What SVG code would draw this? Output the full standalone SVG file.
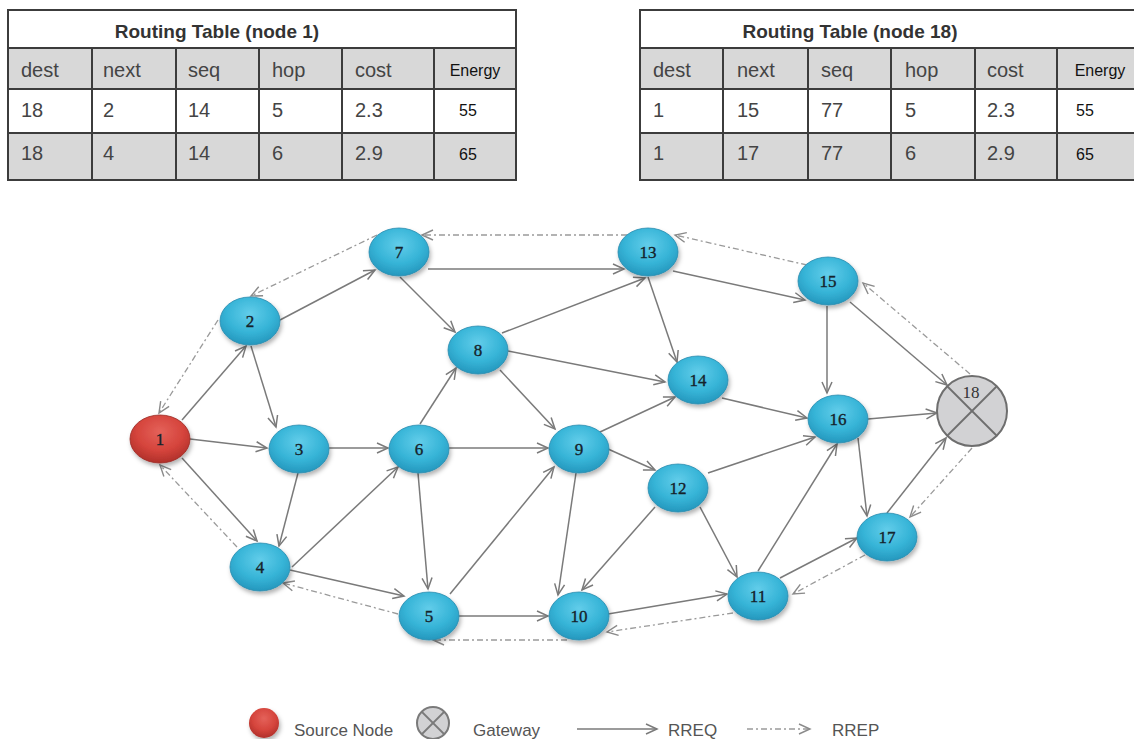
<svg xmlns="http://www.w3.org/2000/svg" width="1134" height="739" viewBox="0 0 1134 739">
<style>
.cellw{fill:#ffffff;stroke:#3c3c3c;stroke-width:2}
.cellg{fill:#d8d8d8;stroke:#3c3c3c;stroke-width:2}
.tt{font-family:"Liberation Sans",Arial,sans-serif;font-size:19px;font-weight:bold;fill:#333}
.th{font-family:"Liberation Sans",Arial,sans-serif;font-size:20px;fill:#444}
.te{font-family:"Liberation Sans",Arial,sans-serif;font-size:16px;fill:#111}
.node{fill:url(#gb);stroke:#2a8cae;stroke-width:0.8;filter:url(#sh)}
.src{fill:url(#gr);stroke:#9a2a24;stroke-width:0.8;filter:url(#sh)}
.lbl{font-family:"Liberation Serif","Times New Roman",serif;font-size:17px;fill:#15232b;stroke:#15232b;stroke-width:0.35;text-anchor:middle}
.req{fill:none;stroke:#7a7a7a;stroke-width:1.5;marker-end:url(#ah)}
.rep{fill:none;stroke:#9a9a9a;stroke-width:1.3;stroke-dasharray:6 3 2 3;marker-end:url(#ahp)}
.leg{font-family:"Liberation Sans",Arial,sans-serif;font-size:17px;fill:#555}
</style>
<defs>
<radialGradient id="gb" cx="50%" cy="35%" r="65%">
<stop offset="0" stop-color="#62cdea"/>
<stop offset="0.6" stop-color="#36b4d7"/>
<stop offset="1" stop-color="#2597bd"/>
</radialGradient>
<radialGradient id="gr" cx="50%" cy="35%" r="65%">
<stop offset="0" stop-color="#e4625a"/>
<stop offset="0.6" stop-color="#d5443c"/>
<stop offset="1" stop-color="#b0302a"/>
</radialGradient>
<filter id="sh" x="-30%" y="-30%" width="160%" height="170%">
<feDropShadow dx="1.5" dy="3" stdDeviation="2" flood-color="#000" flood-opacity="0.3"/>
</filter>
<marker id="ah" markerUnits="userSpaceOnUse" markerWidth="14" markerHeight="14" refX="11" refY="5" orient="auto" overflow="visible">
<path d="M0,0 L11,5 L0,10" fill="none" stroke="#7a7a7a" stroke-width="1.5"/>
</marker>
<marker id="ahp" markerUnits="userSpaceOnUse" markerWidth="14" markerHeight="14" refX="11" refY="5" orient="auto" overflow="visible">
<path d="M0,0 L11,5 L0,10" fill="none" stroke="#8a8a8a" stroke-width="1.4"/>
</marker>
</defs>
<rect width="1134" height="739" fill="#ffffff"/>

<g id="table-node1">
<rect class="cellw" x="8" y="10" width="508" height="38"/>
<rect class="cellg" x="8" y="48" width="84" height="41"/><rect class="cellg" x="92" y="48" width="84" height="41"/><rect class="cellg" x="176" y="48" width="83" height="41"/><rect class="cellg" x="259" y="48" width="83" height="41"/><rect class="cellg" x="342" y="48" width="92" height="41"/><rect class="cellg" x="434" y="48" width="82" height="41"/>
<rect class="cellw" x="8" y="89" width="84" height="44"/><rect class="cellw" x="92" y="89" width="84" height="44"/><rect class="cellw" x="176" y="89" width="83" height="44"/><rect class="cellw" x="259" y="89" width="83" height="44"/><rect class="cellw" x="342" y="89" width="92" height="44"/><rect class="cellw" x="434" y="89" width="82" height="44"/>
<rect class="cellg" x="8" y="133" width="84" height="47"/><rect class="cellg" x="92" y="133" width="84" height="47"/><rect class="cellg" x="176" y="133" width="83" height="47"/><rect class="cellg" x="259" y="133" width="83" height="47"/><rect class="cellg" x="342" y="133" width="92" height="47"/><rect class="cellg" x="434" y="133" width="82" height="47"/>
<text class="tt" x="217" y="38" text-anchor="middle">Routing Table (node 1)</text>
<text class="th" x="21" y="77">dest</text><text class="th" x="103" y="77">next</text><text class="th" x="188" y="77">seq</text><text class="th" x="272" y="77">hop</text><text class="th" x="355" y="77">cost</text><text class="te" x="475" y="76" text-anchor="middle">Energy</text>
<text class="th" x="21" y="117">18</text><text class="th" x="103" y="117">2</text><text class="th" x="188" y="117">14</text><text class="th" x="272" y="117">5</text><text class="th" x="355" y="117">2.3</text><text class="te" x="468" y="116" text-anchor="middle">55</text>
<text class="th" x="21" y="160">18</text><text class="th" x="103" y="160">4</text><text class="th" x="188" y="160">14</text><text class="th" x="272" y="160">6</text><text class="th" x="355" y="160">2.9</text><text class="te" x="468" y="160" text-anchor="middle">65</text>
</g>

<g id="table-node18">
<rect class="cellw" x="640" y="10" width="500" height="38"/>
<rect class="cellg" x="640" y="48" width="83" height="41"/><rect class="cellg" x="723" y="48" width="85" height="41"/><rect class="cellg" x="808" y="48" width="83" height="41"/><rect class="cellg" x="891" y="48" width="84" height="41"/><rect class="cellg" x="975" y="48" width="82" height="41"/><rect class="cellg" x="1057" y="48" width="83" height="41"/>
<rect class="cellw" x="640" y="89" width="83" height="44"/><rect class="cellw" x="723" y="89" width="85" height="44"/><rect class="cellw" x="808" y="89" width="83" height="44"/><rect class="cellw" x="891" y="89" width="84" height="44"/><rect class="cellw" x="975" y="89" width="82" height="44"/><rect class="cellw" x="1057" y="89" width="83" height="44"/>
<rect class="cellg" x="640" y="133" width="83" height="47"/><rect class="cellg" x="723" y="133" width="85" height="47"/><rect class="cellg" x="808" y="133" width="83" height="47"/><rect class="cellg" x="891" y="133" width="84" height="47"/><rect class="cellg" x="975" y="133" width="82" height="47"/><rect class="cellg" x="1057" y="133" width="83" height="47"/>
<text class="tt" x="850" y="38" text-anchor="middle">Routing Table (node 18)</text>
<text class="th" x="653" y="77">dest</text><text class="th" x="737" y="77">next</text><text class="th" x="821" y="77">seq</text><text class="th" x="905" y="77">hop</text><text class="th" x="987" y="77">cost</text><text class="te" x="1100" y="76" text-anchor="middle">Energy</text>
<text class="th" x="653" y="117">1</text><text class="th" x="737" y="117">15</text><text class="th" x="821" y="117">77</text><text class="th" x="905" y="117">5</text><text class="th" x="987" y="117">2.3</text><text class="te" x="1085" y="116" text-anchor="middle">55</text>
<text class="th" x="653" y="160">1</text><text class="th" x="737" y="160">17</text><text class="th" x="821" y="160">77</text><text class="th" x="905" y="160">6</text><text class="th" x="987" y="160">2.9</text><text class="te" x="1085" y="160" text-anchor="middle">65</text>
</g>

<g id="connectors">
<line class="req" x1="182" y1="420" x2="246" y2="346"/>
<line class="req" x1="190" y1="439" x2="267" y2="448"/>
<line class="req" x1="182" y1="458" x2="257" y2="541"/>
<line class="req" x1="251" y1="346" x2="276" y2="427"/>
<line class="req" x1="280" y1="320" x2="375" y2="270"/>
<line class="req" x1="329" y1="448" x2="388" y2="448"/>
<line class="req" x1="298" y1="473" x2="279" y2="546"/>
<line class="req" x1="292" y1="567" x2="398" y2="467"/>
<line class="req" x1="290" y1="570" x2="404" y2="596"/>
<line class="req" x1="420" y1="424" x2="456" y2="368"/>
<line class="req" x1="449" y1="448" x2="548" y2="448"/>
<line class="req" x1="418" y1="473" x2="428" y2="589"/>
<line class="req" x1="400" y1="277" x2="455" y2="332"/>
<line class="req" x1="428" y1="269" x2="624" y2="269"/>
<line class="req" x1="502" y1="333" x2="645" y2="278"/>
<line class="req" x1="508" y1="351" x2="665" y2="382"/>
<line class="req" x1="500" y1="370" x2="555" y2="429"/>
<line class="req" x1="450" y1="594" x2="554" y2="467"/>
<line class="req" x1="459" y1="616" x2="548" y2="616"/>
<line class="req" x1="600" y1="432" x2="675" y2="397"/>
<line class="req" x1="608" y1="449" x2="655" y2="470"/>
<line class="req" x1="576" y1="473" x2="558" y2="595"/>
<line class="req" x1="708" y1="473" x2="815" y2="437"/>
<line class="req" x1="655" y1="507" x2="582" y2="590"/>
<line class="req" x1="700" y1="507" x2="737" y2="577"/>
<line class="req" x1="608" y1="614" x2="727" y2="594"/>
<line class="req" x1="758" y1="571" x2="837" y2="444"/>
<line class="req" x1="780" y1="578" x2="857" y2="538"/>
<line class="req" x1="648" y1="277" x2="677" y2="362"/>
<line class="req" x1="673" y1="271" x2="805" y2="300"/>
<line class="req" x1="722" y1="398" x2="807" y2="418"/>
<line class="req" x1="827" y1="306" x2="827" y2="393"/>
<line class="req" x1="850" y1="302" x2="947" y2="385"/>
<line class="req" x1="868" y1="419" x2="937" y2="413"/>
<line class="req" x1="858" y1="438" x2="867" y2="516"/>
<line class="req" x1="887" y1="513" x2="946" y2="438"/>
<line class="rep" x1="627" y1="235" x2="422" y2="235"/>
<line class="rep" x1="377" y1="235" x2="251" y2="296"/>
<line class="rep" x1="218" y1="320" x2="159" y2="413"/>
<line class="rep" x1="807" y1="265" x2="675" y2="235"/>
<line class="rep" x1="970" y1="374" x2="863" y2="283"/>
<line class="rep" x1="972" y1="448" x2="910" y2="517"/>
<line class="rep" x1="865" y1="555" x2="793" y2="594"/>
<line class="rep" x1="733" y1="613" x2="607" y2="632"/>
<line class="rep" x1="567" y1="640" x2="433" y2="640"/>
<line class="rep" x1="398" y1="614" x2="283" y2="583"/>
<line class="rep" x1="237" y1="547" x2="160" y2="465"/>
</g>

<g id="node1"><ellipse class="src" cx="160" cy="439" rx="30" ry="24"/><text class="lbl" x="160" y="445">1</text></g>
<g id="node2"><ellipse class="node" cx="250" cy="321" rx="30" ry="24"/><text class="lbl" x="250" y="327">2</text></g>
<g id="node3"><ellipse class="node" cx="299" cy="449" rx="30" ry="24"/><text class="lbl" x="299" y="455">3</text></g>
<g id="node4"><ellipse class="node" cx="260" cy="567" rx="30" ry="24"/><text class="lbl" x="260" y="573">4</text></g>
<g id="node5"><ellipse class="node" cx="429" cy="616" rx="30" ry="24"/><text class="lbl" x="429" y="622">5</text></g>
<g id="node6"><ellipse class="node" cx="419" cy="449" rx="30" ry="24"/><text class="lbl" x="419" y="455">6</text></g>
<g id="node7"><ellipse class="node" cx="399" cy="252" rx="30" ry="24"/><text class="lbl" x="399" y="258">7</text></g>
<g id="node8"><ellipse class="node" cx="478" cy="350" rx="30" ry="24"/><text class="lbl" x="478" y="356">8</text></g>
<g id="node9"><ellipse class="node" cx="579" cy="449" rx="30" ry="24"/><text class="lbl" x="579" y="455">9</text></g>
<g id="node10"><ellipse class="node" cx="579" cy="616" rx="30" ry="24"/><text class="lbl" x="579" y="622">10</text></g>
<g id="node11"><ellipse class="node" cx="758" cy="596" rx="30" ry="24"/><text class="lbl" x="758" y="602">11</text></g>
<g id="node12"><ellipse class="node" cx="678" cy="488" rx="30" ry="24"/><text class="lbl" x="678" y="494">12</text></g>
<g id="node13"><ellipse class="node" cx="648" cy="252" rx="30" ry="24"/><text class="lbl" x="648" y="258">13</text></g>
<g id="node14"><ellipse class="node" cx="698" cy="380" rx="30" ry="24"/><text class="lbl" x="698" y="386">14</text></g>
<g id="node15"><ellipse class="node" cx="828" cy="281" rx="30" ry="24"/><text class="lbl" x="828" y="287">15</text></g>
<g id="node16"><ellipse class="node" cx="838" cy="419" rx="30" ry="24"/><text class="lbl" x="838" y="425">16</text></g>
<g id="node17"><ellipse class="node" cx="887" cy="537" rx="30" ry="24"/><text class="lbl" x="887" y="543">17</text></g>
<g id="node18">
<circle cx="972" cy="411" r="35" fill="#d2d2d4" stroke="#6e6e6e" stroke-width="2"/>
<line x1="947" y1="386" x2="997" y2="436" stroke="#6e6e6e" stroke-width="1.8"/>
<line x1="997" y1="386" x2="947" y2="436" stroke="#6e6e6e" stroke-width="1.8"/>
<text class="lbl" x="971" y="398" style="fill:#333;stroke:none">18</text>
</g>

<g id="legend">
<circle cx="264" cy="723" r="15" fill="url(#gr)" filter="url(#sh)"/>
<text class="leg" x="294" y="736">Source Node</text>
<circle cx="433" cy="723" r="16" fill="#d2d2d4" stroke="#7a7a7a" stroke-width="2"/>
<line x1="422" y1="712" x2="444" y2="734" stroke="#7a7a7a" stroke-width="1.8"/>
<line x1="444" y1="712" x2="422" y2="734" stroke="#7a7a7a" stroke-width="1.8"/>
<text class="leg" x="473" y="736">Gateway</text>
<line class="req" x1="577" y1="729" x2="657" y2="729"/>
<text class="leg" x="668" y="736">RREQ</text>
<line class="rep" x1="747" y1="729" x2="810" y2="729"/>
<text class="leg" x="832" y="736">RREP</text>
</g>
</svg>
